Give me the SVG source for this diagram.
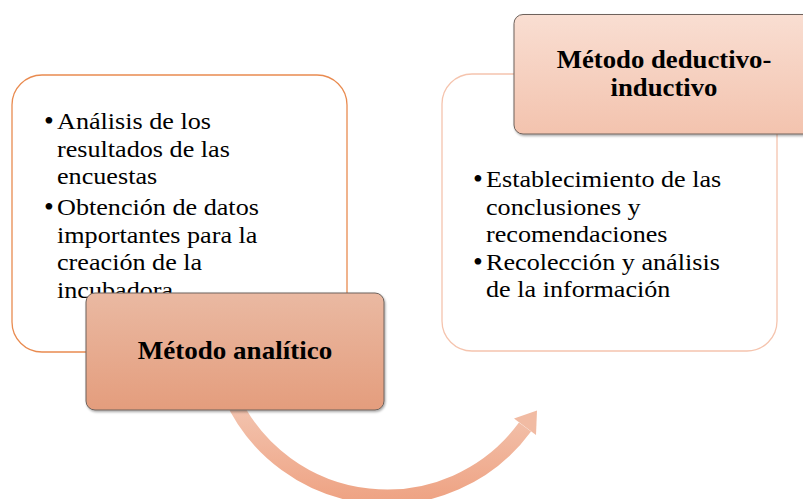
<svg xmlns="http://www.w3.org/2000/svg" width="803" height="499" viewBox="0 0 803 499">
  <defs>
    <linearGradient id="gAnal" x1="0" y1="0" x2="0" y2="1">
      <stop offset="0" stop-color="#EAB9A2"/>
      <stop offset="1" stop-color="#E49D7D"/>
    </linearGradient>
    <linearGradient id="gDed" x1="0" y1="0" x2="0" y2="1">
      <stop offset="0" stop-color="#F9DED2"/>
      <stop offset="1" stop-color="#F3C3AE"/>
    </linearGradient>
    <linearGradient id="gArrow" gradientUnits="userSpaceOnUse" x1="0" y1="400" x2="0" y2="505">
      <stop offset="0" stop-color="#F3C6B2"/>
      <stop offset="1" stop-color="#EEA181"/>
    </linearGradient>
    <filter id="shadow" x="-5%" y="-5%" width="112%" height="115%">
      <feDropShadow dx="1" dy="1.5" stdDeviation="1" flood-color="#000" flood-opacity="0.35"/>
    </filter>
  </defs>
  <style>
    .body { font-family: "Liberation Serif", "Times New Roman", serif; font-size: 24px; fill: #000; }
    .bullet { font-family: "Liberation Serif", "Times New Roman", serif; font-size: 28px; fill: #000; }
    .head { font-family: "Liberation Serif", "Times New Roman", serif; font-weight: bold; fill: #000; text-anchor: middle; }
    .panel { fill: #fff; stroke-width: 1.3; }
    .label { stroke: #6e625c; stroke-width: 1; filter: url(#shadow); }
  </style>
  <rect width="803" height="499" fill="#fff"/>

  <g id="panel-analitico">
    <rect class="panel" x="12" y="75" width="335" height="277" rx="30" ry="30" stroke="#E98B50"/>
    <text class="bullet" x="44" y="130">•</text>
    <text class="bullet" x="44" y="215.7">•</text>
    <g class="body">
      <text transform="translate(57 0) scale(1.09 1)" y="129.3">Análisis de los</text>
      <text transform="translate(57 0) scale(1.09 1)" y="157">resultados de las</text>
      <text transform="translate(57 0) scale(1.09 1)" y="184.5">encuestas</text>
      <text transform="translate(57 0) scale(1.09 1)" y="215">Obtención de datos</text>
      <text transform="translate(57 0) scale(1.09 1)" y="242.8">importantes para la</text>
      <text transform="translate(57 0) scale(1.09 1)" y="270.5">creación de la</text>
      <text transform="translate(57 0) scale(1.09 1)" y="298">incubadora</text>
    </g>
  </g>

  <g id="panel-deductivo">
    <rect class="panel" x="442" y="74" width="335" height="277" rx="30" ry="30" stroke="#F5C4AE"/>
    <text class="bullet" x="473" y="188">•</text>
    <text class="bullet" x="473" y="270.7">•</text>
    <g class="body">
      <text transform="translate(486 0) scale(1.09 1)" y="187.3">Establecimiento de las</text>
      <text transform="translate(486 0) scale(1.09 1)" y="215">conclusiones y</text>
      <text transform="translate(486 0) scale(1.09 1)" y="242">recomendaciones</text>
      <text transform="translate(486 0) scale(1.09 1)" y="270">Recolección y análisis</text>
      <text transform="translate(486 0) scale(1.09 1)" y="297">de la información</text>
    </g>
  </g>

  <g id="connectors">
    <path d="M 230.5 395 A 171 171 0 0 0 525 427" fill="none" stroke="url(#gArrow)" stroke-width="15"/>
    <polygon points="537,410.5 514,418.5 536,435" fill="#F1BBA3"/>
  </g>

  <g id="metodo-analitico">
    <rect class="label" x="86" y="293" width="298" height="117" rx="9" ry="9" fill="url(#gAnal)"/>
    <text class="head" transform="translate(235 0) scale(1.04 1)" y="359" font-size="26">Método analítico</text>
  </g>

  <g id="metodo-deductivo">
    <rect class="label" x="514" y="14.5" width="298" height="119.5" rx="9" ry="9" fill="url(#gDed)"/>
    <text class="head" transform="translate(664 0) scale(1.07 1)" y="68.3" font-size="25">Método deductivo-</text>
    <text class="head" transform="translate(664 0) scale(1.07 1)" y="95.7" font-size="25">inductivo</text>
  </g>
</svg>
